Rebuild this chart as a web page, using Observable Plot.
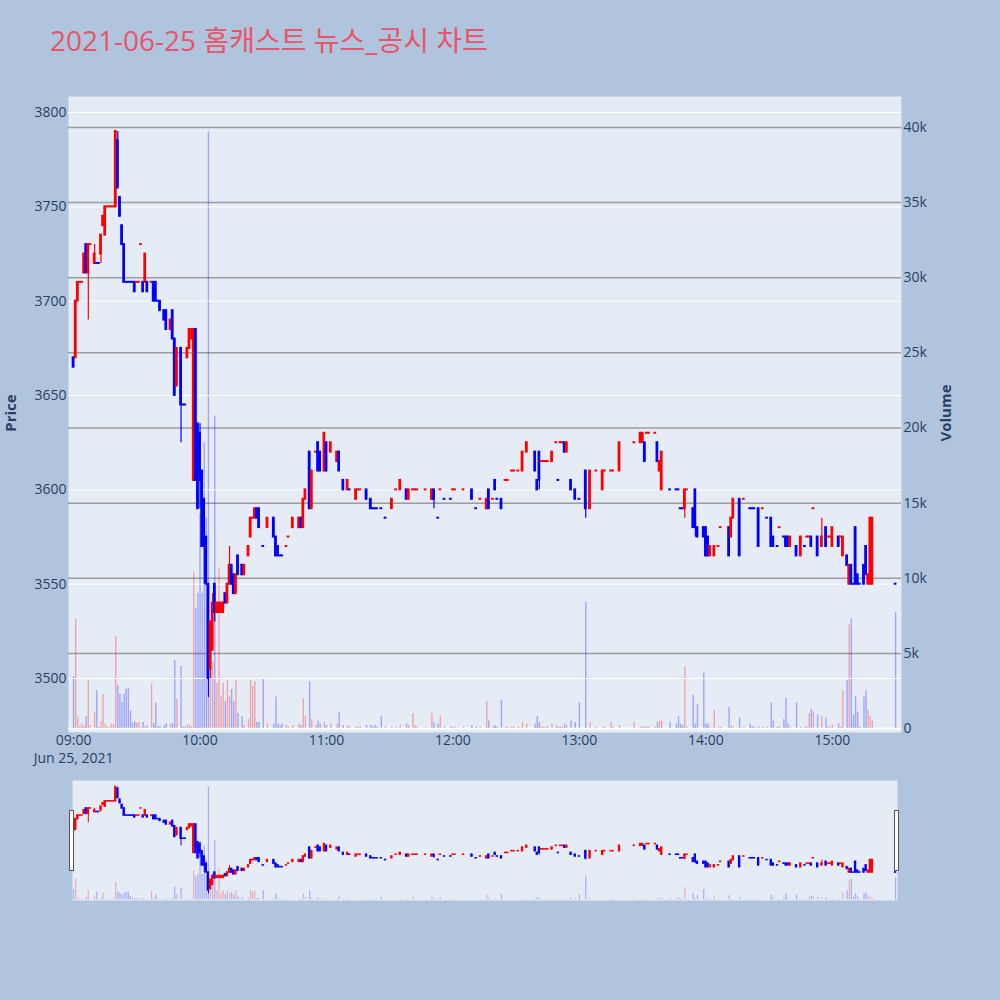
<!DOCTYPE html>
<html>
<head>
<meta charset="utf-8">
<script src="https://cdn.jsdelivr.net/npm/d3@7"></script>
<script src="https://cdn.jsdelivr.net/npm/@observablehq/plot@0.6"></script>
<style>
  body { margin: 0; background: #b0c4de; }
  #chart { position: relative; width: 1000px; height: 1000px; background: #b0c4de; overflow: hidden;
           font-family: "Open Sans", "Noto Sans CJK KR", sans-serif; }
  #chart svg { position: absolute; left: 0; }
  .title { position: absolute; left: 50px; top: 19px; font-size: 28px; color: #ea5468; white-space: nowrap;
           font-family: "Open Sans", "Noto Sans CJK KR", sans-serif; }
  .axis-title { position: absolute; font-size: 15px; font-weight: bold; color: #2a3f5f; white-space: nowrap;
                transform: translate(-50%, -50%) rotate(-90deg); }
  .grip { position: absolute; top: 810px; width: 3px; height: 59px; background: #fff; border: 1px solid #555; }
</style>
</head>
<body>
<div id="chart">
  <div class="title">2021-06-25 홈캐스트 뉴스_공시 차트</div>
  <div class="axis-title" style="left:10px; top:413px;">Price</div>
  <div class="axis-title" style="left:945px; top:413px;">Volume</div>
</div>
<script>
// One-minute bars for the session, 09:00 – 15:30
const times = [
  "09:00","09:01","09:02","09:03","09:04","09:05","09:06","09:07","09:08","09:10",
  "09:11","09:12","09:13","09:14","09:15","09:16","09:17","09:18","09:19","09:20",
  "09:21","09:22","09:23","09:24","09:25","09:26","09:27","09:28","09:29","09:30",
  "09:31","09:32","09:33","09:34","09:35","09:37","09:38","09:39","09:40","09:41",
  "09:43","09:44","09:46","09:47","09:48","09:49","09:51","09:52","09:53","09:54",
  "09:55","09:56","09:57","09:58","09:59","10:00","10:01","10:02","10:03","10:04",
  "10:05","10:06","10:07","10:08","10:09","10:10","10:11","10:12","10:13","10:14",
  "10:15","10:16","10:17","10:18","10:20","10:21","10:23","10:24","10:25","10:26",
  "10:27","10:28","10:30","10:32","10:35","10:36","10:37","10:38","10:39","10:41",
  "10:42","10:44","10:47","10:48","10:49","10:50","10:52","10:53","10:55","10:56",
  "10:57","10:59","11:00","11:02","11:05","11:06","11:08","11:10","11:11","11:14",
  "11:15","11:16","11:19","11:21","11:22","11:23","11:24","11:26","11:28","11:31",
  "11:33","11:35","11:38","11:39","11:41","11:42","11:43","11:47","11:50","11:51",
  "11:53","11:54","11:56","11:59","12:00","12:01","12:05","12:09","12:11","12:13",
  "12:16","12:17","12:19","12:20","12:21","12:23","12:25","12:26","12:28","12:29",
  "12:31","12:33","12:35","12:39","12:40","12:41","12:42","12:43","12:44","12:45",
  "12:47","12:49","12:50","12:51","12:52","12:53","12:54","12:56","12:58","13:00",
  "13:03","13:05","13:08","13:11","13:12","13:15","13:16","13:19","13:26","13:29",
  "13:30","13:31","13:32","13:33","13:36","13:37","13:38","13:39","13:43","13:46",
  "13:47","13:48","13:49","13:50","13:51","13:54","13:55","13:56","13:59","14:00",
  "14:01","14:02","14:04","14:06","14:07","14:11","14:12","14:13","14:16","14:18",
  "14:21","14:22","14:23","14:25","14:27","14:29","14:31","14:32","14:34","14:35",
  "14:37","14:38","14:39","14:40","14:43","14:45","14:47","14:48","14:49","14:50",
  "14:51","14:53","14:55","14:57","14:58","14:59","15:00","15:03","15:04","15:05",
  "15:07","15:08","15:09","15:10","15:11","15:12","15:13","15:15","15:16","15:17",
  "15:18","15:19","15:30"
];
const opens = [
  3670,3670,3700,3710,3710,3715,3730,3715,3730,3720,
  3720,3720,3725,3740,3735,3750,3750,3750,3750,3750,
  3785,3755,3740,3730,3710,3710,3710,3710,3710,3710,
  3710,3730,3710,3710,3710,3710,3710,3710,3700,3700,
  3695,3695,3685,3695,3680,3655,3675,3645,3645,3670,
  3675,3680,3605,3685,3635,3630,3610,3595,3575,3550,
  3505,3515,3550,3535,3535,3535,3535,3545,3540,3550,
  3560,3555,3545,3565,3560,3555,3565,3575,3585,3585,
  3590,3590,3570,3580,3585,3575,3570,3565,3565,3570,
  3575,3580,3580,3585,3580,3595,3620,3590,3620,3625,
  3620,3610,3625,3620,3615,3620,3605,3600,3600,3595,
  3600,3600,3600,3595,3590,3590,3590,3590,3585,3590,
  3600,3600,3600,3595,3600,3600,3600,3600,3595,3600,
  3585,3600,3595,3595,3600,3600,3600,3600,3590,3595,
  3590,3600,3595,3605,3595,3595,3605,3605,3610,3610,
  3610,3610,3620,3620,3605,3620,3615,3615,3615,3615,
  3615,3625,3605,3625,3625,3625,3620,3605,3600,3595,
  3610,3590,3610,3600,3610,3610,3610,3610,3625,3625,
  3625,3625,3630,3630,3630,3625,3610,3600,3600,3600,
  3600,3590,3590,3590,3600,3590,3600,3580,3580,3580,
  3575,3565,3565,3570,3580,3580,3575,3585,3595,3595,
  3590,3590,3590,3590,3590,3585,3585,3575,3570,3580,
  3575,3575,3575,3570,3570,3565,3570,3575,3575,3575,
  3590,3575,3570,3580,3575,3575,3570,3575,3575,3565,
  3565,3550,3560,3550,3580,3555,3550,3560,3570,3550,
  3550,3550,3550
];
const highs = [
  3670,3700,3710,3710,3710,3725,3730,3730,3730,3730,
  3720,3720,3735,3745,3750,3750,3750,3750,3750,3790,
  3790,3755,3740,3730,3710,3710,3710,3710,3710,3710,
  3710,3730,3710,3725,3710,3710,3710,3710,3700,3700,
  3695,3695,3690,3695,3680,3675,3675,3645,3645,3675,
  3685,3685,3685,3685,3635,3635,3610,3595,3575,3550,
  3530,3545,3550,3540,3540,3540,3540,3545,3550,3570,
  3560,3555,3555,3565,3560,3560,3570,3585,3585,3590,
  3590,3590,3570,3585,3585,3575,3570,3565,3565,3570,
  3575,3585,3585,3585,3595,3600,3620,3610,3620,3625,
  3620,3630,3625,3625,3620,3620,3605,3605,3600,3600,
  3600,3600,3600,3595,3590,3590,3590,3590,3585,3595,
  3600,3605,3600,3600,3600,3600,3600,3600,3600,3600,
  3585,3600,3595,3595,3600,3600,3600,3600,3590,3595,
  3595,3600,3595,3605,3595,3595,3605,3605,3610,3610,
  3610,3620,3625,3620,3605,3620,3615,3615,3615,3615,
  3620,3625,3605,3625,3625,3625,3625,3605,3600,3595,
  3610,3610,3610,3610,3610,3610,3610,3625,3625,3630,
  3630,3625,3630,3630,3630,3625,3615,3620,3600,3600,
  3600,3590,3590,3600,3600,3590,3600,3580,3580,3580,
  3575,3570,3570,3570,3580,3580,3585,3595,3595,3595,
  3590,3590,3590,3590,3590,3585,3585,3575,3570,3580,
  3575,3575,3575,3575,3570,3575,3570,3575,3575,3575,
  3590,3575,3585,3580,3575,3575,3580,3575,3575,3575,
  3565,3560,3560,3550,3580,3555,3550,3560,3570,3555,
  3585,3585,3550
];
const lows = [
  3665,3670,3700,3710,3710,3715,3715,3690,3730,3720,
  3720,3720,3720,3740,3735,3750,3750,3750,3750,3750,
  3760,3745,3730,3710,3710,3710,3710,3710,3705,3710,
  3710,3730,3705,3710,3705,3710,3700,3700,3700,3695,
  3690,3685,3685,3680,3650,3655,3625,3645,3645,3670,
  3675,3680,3605,3605,3590,3590,3570,3550,3550,3490,
  3500,3515,3530,3535,3535,3535,3535,3540,3540,3550,
  3550,3545,3545,3555,3555,3555,3565,3575,3585,3585,
  3585,3580,3570,3580,3575,3565,3565,3565,3565,3570,
  3575,3580,3580,3580,3580,3595,3590,3590,3620,3610,
  3610,3610,3610,3620,3615,3610,3600,3600,3600,3595,
  3600,3600,3595,3590,3590,3590,3590,3590,3585,3590,
  3600,3600,3595,3595,3600,3600,3600,3600,3595,3590,
  3585,3600,3595,3595,3600,3600,3600,3595,3590,3595,
  3590,3590,3595,3600,3595,3590,3605,3605,3610,3610,
  3610,3610,3620,3610,3600,3600,3615,3615,3615,3615,
  3615,3625,3605,3625,3625,3620,3620,3600,3595,3595,
  3585,3590,3610,3600,3610,3610,3610,3610,3625,3625,
  3625,3615,3630,3630,3630,3615,3610,3600,3600,3600,
  3600,3590,3590,3585,3600,3580,3575,3575,3575,3565,
  3565,3565,3565,3570,3580,3565,3575,3585,3565,3595,
  3590,3590,3590,3570,3590,3585,3570,3570,3570,3580,
  3575,3570,3570,3570,3565,3565,3570,3575,3575,3570,
  3590,3565,3570,3570,3575,3575,3570,3570,3575,3565,
  3560,3550,3550,3550,3550,3550,3550,3550,3555,3550,
  3550,3550,3550
];
const closes = [
  3665,3700,3710,3710,3710,3725,3715,3730,3730,3725,
  3720,3720,3735,3745,3750,3750,3750,3750,3750,3790,
  3760,3745,3730,3710,3710,3710,3710,3710,3705,3710,
  3710,3730,3705,3725,3705,3710,3700,3700,3700,3695,
  3690,3685,3690,3680,3650,3675,3645,3645,3645,3675,
  3685,3685,3685,3605,3590,3605,3570,3570,3550,3500,
  3530,3540,3535,3540,3540,3540,3540,3540,3550,3560,
  3550,3545,3555,3555,3555,3560,3570,3585,3585,3590,
  3585,3580,3570,3585,3575,3565,3565,3565,3565,3570,
  3575,3585,3585,3580,3595,3600,3590,3610,3620,3610,
  3610,3630,3610,3625,3620,3610,3600,3605,3600,3600,
  3600,3600,3595,3590,3590,3590,3590,3590,3585,3595,
  3600,3605,3595,3600,3600,3600,3600,3600,3600,3595,
  3585,3600,3595,3595,3600,3600,3600,3595,3590,3595,
  3595,3590,3595,3600,3595,3590,3605,3605,3610,3610,
  3610,3620,3625,3610,3600,3605,3615,3615,3615,3615,
  3620,3625,3605,3625,3625,3620,3625,3600,3595,3595,
  3590,3610,3610,3610,3610,3610,3610,3625,3625,3630,
  3630,3615,3630,3630,3630,3615,3615,3620,3600,3600,
  3600,3590,3590,3600,3600,3580,3580,3575,3575,3565,
  3565,3570,3570,3570,3580,3565,3585,3595,3565,3595,
  3590,3590,3590,3570,3590,3585,3570,3570,3570,3580,
  3575,3570,3570,3575,3565,3575,3570,3575,3575,3570,
  3590,3565,3575,3570,3575,3575,3580,3570,3575,3575,
  3560,3560,3550,3550,3550,3550,3550,3550,3555,3555,
  3585,3585,3550
];
const volumes = [
  3450,7250,750,130,290,130,800,3200,170,1080,
  2530,70,470,2240,290,100,80,290,250,6120,
  2860,2280,1730,2280,2620,2660,1170,350,440,350,
  400,50,400,150,180,2970,350,1690,130,110,
  180,330,290,330,4520,1950,4120,100,100,180,
  240,130,10400,8000,9000,14300,9000,19000,14000,39700,
  4700,4400,20800,3000,10700,2100,3000,1800,3200,2100,
  2600,1800,3200,1000,800,200,600,3200,2800,3100,
  400,400,3300,300,300,2100,300,200,300,200,
  100,200,300,200,2000,800,3100,600,200,500,
  300,400,200,300,300,1100,200,200,100,100,
  100,100,200,200,100,200,100,800,100,100,
  100,200,300,200,1000,200,100,50,1000,400,
  300,800,100,100,100,100,100,200,100,100,
  1800,500,100,200,100,1900,100,100,100,100,
  100,400,300,300,800,400,100,100,100,100,
  300,200,100,100,100,300,200,500,400,1700,
  8400,400,100,100,100,400,100,200,400,100,
  100,100,100,100,100,400,500,500,400,300,
  800,300,200,4100,100,2200,300,1600,3700,300,
  300,100,1200,100,100,1400,200,100,700,100,
  300,100,100,100,100,100,1700,500,100,100,
  600,2000,300,100,1700,100,100,100,1000,1300,
  1100,900,800,700,100,100,200,300,100,2500,
  3200,6900,7300,900,2100,1100,100,2100,2500,1200,
  800,500,7700
];

// Axis ticks
const priceTicks = [3500, 3550, 3600, 3650, 3700, 3750, 3800];
const volumeTicks = [0, 5000, 10000, 15000, 20000, 25000, 30000, 35000, 40000];
const hourTicks = ["09:00", "10:00", "11:00", "12:00", "13:00", "14:00", "15:00"];
const sessionDate = "Jun 25, 2021";

const UP = "#ff0000", DOWN = "#0000ff";
const MIN = 60000;
const toDate = s => { const [h, m] = s.split(":").map(Number); return new Date(Date.UTC(2021, 5, 25, h, m)); };

// Direction: close vs open; on a flat bar, compare with the previous close, else keep the last direction
let prevClose = null, prevUp = true;
const bars = times.map((s, i) => {
  const o = opens[i], c = closes[i];
  let up;
  if (c > o) up = true;
  else if (c < o) up = false;
  else if (prevClose !== null && c > prevClose) up = true;
  else if (prevClose !== null && c < prevClose) up = false;
  else up = prevUp;
  prevClose = c; prevUp = up;
  const t = toDate(s);
  return {
    t, o, c, h: highs[i], l: lows[i], v: volumes[i],
    lo: Math.min(o, c), hi: Math.max(o, c),
    color: up ? UP : DOWN
  };
});

const open0 = +toDate("09:00");
const xDomain = [new Date(open0 - 2.4 * MIN), new Date(open0 + 392.8 * MIN)];
const priceDomain = [3471.4, 3808.5];
const volumeDomain = [-266, 42063];
const chart = document.getElementById("chart");

const baseStyle = {
  background: "transparent",
  fontFamily: "'Open Sans', 'Noto Sans CJK KR', sans-serif",
  fontSize: "14px",
  color: "#2a3f5f",
  overflow: "visible"
};

function place(svg, top) {
  svg.style.position = "absolute";
  svg.style.top = top + "px";
  svg.style.left = "0px";
  chart.appendChild(svg);
}

function bodyRects(halfWidth, grow) {
  return Plot.rect(bars, {
    x1: d => new Date(+d.t - halfWidth * MIN),
    x2: d => new Date(+d.t + halfWidth * MIN),
    y1: "lo", y2: "hi",
    fill: "color",
    insetTop: -grow, insetBottom: -grow
  });
}

// ---- main panel: volume layer (background, grey grid, right axis) ----
place(Plot.plot({
  width: 1000, height: 770,
  marginLeft: 68, marginRight: 99, marginTop: 96, marginBottom: 38,
  style: baseStyle,
  x: {type: "utc", domain: xDomain, axis: null},
  y: {domain: volumeDomain, axis: "right", ticks: volumeTicks, tickSize: 0, tickPadding: 2,
      tickFormat: d => d === 0 ? "0" : (d / 1000) + "k", label: null},
  marks: [
    Plot.frame({fill: "#e5ecf6", stroke: "none"}),
    Plot.ruleY(volumeTicks.filter(d => d > 0), {stroke: "#9c9c9c", strokeWidth: 1.5}),
    Plot.ruleY([0], {stroke: "#ffffff", strokeWidth: 2}),
    Plot.ruleX(bars, {x: "t", y1: 0, y2: "v", stroke: "color", strokeOpacity: 0.3, strokeWidth: 1.4})
  ]
}), 0);

// ---- main panel: price layer (white grid, candles, left and time axes) ----
place(Plot.plot({
  width: 1000, height: 770,
  marginLeft: 68, marginRight: 99, marginTop: 96, marginBottom: 38,
  style: baseStyle,
  x: {type: "utc", domain: xDomain, ticks: hourTicks.map(toDate), tickFormat: d3.utcFormat("%H:%M"),
      tickSize: 0, tickPadding: 3, label: null},
  y: {domain: priceDomain, ticks: priceTicks, tickSize: 0, tickPadding: 2, tickFormat: d => String(d), label: null},
  marks: [
    Plot.ruleY(priceTicks, {stroke: "#ffffff", strokeWidth: 1}),
    Plot.ruleX(bars, {x: "t", y1: "l", y2: "h", stroke: "color", strokeWidth: 1.2}),
    bodyRects(0.65, 1),
    Plot.text([sessionDate], {x: toDate("09:00"), frameAnchor: "bottom", lineAnchor: "middle", dy: 26,
                              fill: "#2a3f5f", fontSize: 14})
  ]
}), 0);

// ---- range slider: volume layer ----
place(Plot.plot({
  width: 1000, height: 140,
  marginLeft: 68, marginRight: 99, marginTop: 10, marginBottom: 10,
  style: baseStyle,
  x: {type: "utc", domain: xDomain, axis: null},
  y: {domain: volumeDomain, axis: null},
  marks: [
    Plot.frame({fill: "#e5ecf6", stroke: "none", insetLeft: 4, insetRight: 4}),
    Plot.ruleX(bars, {x: "t", y1: 0, y2: "v", stroke: "color", strokeOpacity: 0.28, strokeWidth: 1.2})
  ]
}), 770);

// ---- range slider: price layer ----
place(Plot.plot({
  width: 1000, height: 140,
  marginLeft: 68, marginRight: 99, marginTop: 10, marginBottom: 10,
  style: baseStyle,
  x: {type: "utc", domain: xDomain, axis: null},
  y: {domain: priceDomain, axis: null},
  marks: [
    Plot.ruleX(bars, {x: "t", y1: "l", y2: "h", stroke: "color", strokeWidth: 1}),
    bodyRects(0.55, 0.8)
  ]
}), 770);

// slider grips
for (const left of [69, 894]) {
  const g = document.createElement("div");
  g.className = "grip";
  g.style.left = left + "px";
  chart.appendChild(g);
}
</script>
</body>
</html>
